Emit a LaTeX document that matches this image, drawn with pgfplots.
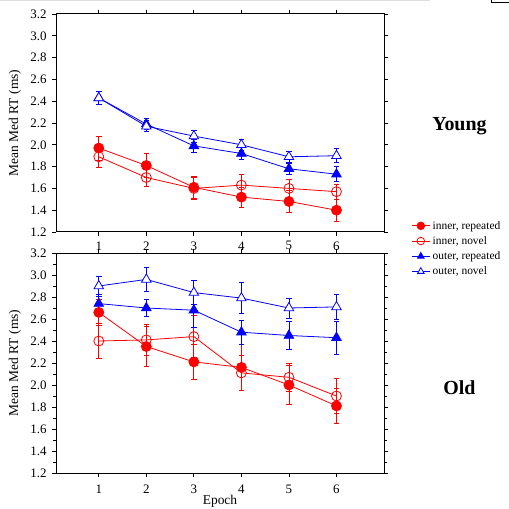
\documentclass[border=0pt]{standalone}
\usepackage{fontspec}
\setmainfont{Liberation Serif}
\usepackage{pgfplots}
\pgfplotsset{compat=1.18}
\definecolor{pred}{RGB}{255,0,0}
\definecolor{pblue}{RGB}{0,0,255}

% Young: epoch, mean, err
\pgfplotstableread{
x y e
1 1.97 0.11
2 1.81 0.11
3 1.61 0.10
4 1.52 0.09
5 1.48 0.10
6 1.40 0.10
}\yir
\pgfplotstableread{
x y e
1 1.89 0.10
2 1.70 0.08
3 1.60 0.10
4 1.63 0.10
5 1.60 0.08
6 1.57 0.07
}\yin
\pgfplotstableread{
x y e
1 2.43 0.06
2 2.19 0.05
3 1.99 0.06
4 1.92 0.055
5 1.78 0.05
6 1.73 0.07
}\yor
\pgfplotstableread{
x y e
1 2.43 0.06
2 2.17 0.05
3 2.08 0.055
4 2.00 0.05
5 1.89 0.05
6 1.90 0.065
}\yon
% Old
\pgfplotstableread{
x y e
1 2.66 0.12
2 2.35 0.18
3 2.21 0.16
4 2.16 0.21
5 2.00 0.18
6 1.81 0.16
}\oir
\pgfplotstableread{
x y e
1 2.40 0.16
2 2.41 0.14
3 2.44 0.19
4 2.11 0.16
5 2.07 0.13
6 1.90 0.16
}\oin
\pgfplotstableread{
x y e
1 2.74 0.08
2 2.70 0.08
3 2.68 0.16
4 2.48 0.11
5 2.45 0.13
6 2.43 0.15
}\oor
\pgfplotstableread{
x y e
1 2.90 0.09
2 2.96 0.11
3 2.84 0.11
4 2.79 0.14
5 2.70 0.09
6 2.71 0.11
}\oon

\pgfplotsset{
  panel/.style={
    scale only axis, width=328bp, anchor=south west,
    xmin=0.1, xmax=7, ymin=1.2, ymax=3.2,
    xtick={1,...,6}, ytick={1.2,1.4,...,3.2},
    yticklabel style={/pgf/number format/fixed, /pgf/number format/precision=1, /pgf/number format/fixed zerofill, xshift=-2bp},
    /pgf/number format/assume math mode=true,
    tick label style={font=\fontsize{13}{15}\selectfont},
    label style={font=\fontsize{13.5}{15}\selectfont},
    axis line style={line width=1pt},
    tick style={line width=0.8pt, black},
    major tick length=4bp, minor tick length=3bp,
    tick align=outside,
    xtick pos=both, ytick pos=both,
    xticklabel pos=lower, yticklabel pos=left,
    ylabel={Mean Med RT (ms)},
    ylabel style={at={(axis description cs:-0.125,0.5)}, anchor=center},
    clip=false,
  },
  err/.style={error bars/.cd, y dir=both, y explicit,
    error bar style={line width=0.8pt}, error mark options={rotate=90, mark size=2.8bp, line width=0.8pt}},
  ir/.style={pred, line width=0.8pt, mark=*, mark size=5bp, mark options={fill=pred}},
  in/.style={pred, line width=0.8pt, mark=o, mark size=5bp, mark options={fill=white}},
  or/.style={pblue, line width=0.8pt, mark=triangle*, mark size=5.5bp, mark options={fill=pblue}},
  on/.style={pblue, line width=0.8pt, mark=triangle*, mark size=5.5bp, mark options={fill=white}},
}

\begin{document}
\begin{tikzpicture}
\useasboundingbox (0,0) rectangle (509bp,509bp);
\draw[gray!25, line width=0.6pt] (0,508.5bp) -- (430bp,508.5bp);
\draw[black, line width=0.6pt] (491.7bp,509bp) -- (491.7bp,506.3bp) -- (509bp,506.3bp);

\begin{axis}[panel, at={(56bp,277bp)}, height=218bp,
  xticklabel style={yshift=-2bp},
  legend style={at={(axis description cs:1.083,0.06)}, anchor=north west, draw=none, fill=none,
    font=\fontsize{11.5}{13}\selectfont, row sep=1.8pt, inner sep=0pt,
    nodes={inner xsep=2.5bp}},
  legend image code/.code={\draw[mark repeat=2, mark phase=2, #1, mark size=3.8bp]
    plot coordinates {(0bp,0bp) (9bp,0bp) (18bp,0bp)};},
  legend cell align=left]
\addplot[ir, err] table[x=x, y=y, y error=e] {\yir};
\addplot[in, err] table[x=x, y=y, y error=e] {\yin};
\addplot[or, err] table[x=x, y=y, y error=e] {\yor};
\addplot[on, err] table[x=x, y=y, y error=e] {\yon};
\legend{{inner, repeated}, {inner, novel}, {outer, repeated}, {outer, novel}}
\node[font=\bfseries\fontsize{20}{22}\selectfont] at (axis description cs:1.23,0.486) {Young};
\end{axis}

\begin{axis}[panel, at={(56bp,36bp)}, height=220bp, minor y tick num=1,
  xticklabel style={yshift=-4.5bp},
  xlabel={Epoch}, xlabel style={at={(axis description cs:0.5,-0.097)}, anchor=north, inner sep=1bp}]
\addplot[ir, err] table[x=x, y=y, y error=e] {\oir};
\addplot[in, err] table[x=x, y=y, y error=e] {\oin};
\addplot[or, err] table[x=x, y=y, y error=e] {\oor};
\addplot[on, err] table[x=x, y=y, y error=e] {\oon};
\node[font=\bfseries\fontsize{20}{22}\selectfont] at (axis description cs:1.23,0.39) {Old};
\end{axis}
\end{tikzpicture}
\end{document}
